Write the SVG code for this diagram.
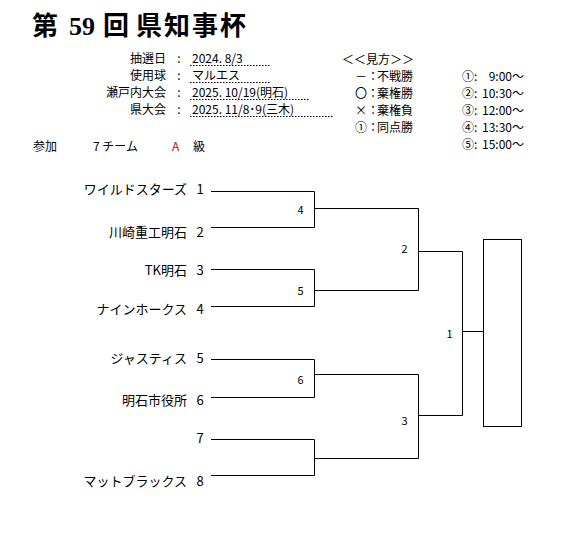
<svg xmlns="http://www.w3.org/2000/svg" width="563" height="536" viewBox="0 0 563 536">
<style>
text{font-family:"Noto Sans CJK JP",sans-serif;fill:#000;dominant-baseline:central}
.title{font-family:"Liberation Serif","Noto Sans CJK JP",serif;font-size:26px;font-weight:bold;dominant-baseline:alphabetic}
.s{font-size:12px}
.t{font-size:13px}
.m{font-size:11px;text-anchor:middle}
.r{text-anchor:end}
.c{text-anchor:middle}
.dot{stroke:#000;stroke-width:1;stroke-dasharray:1.5,1.5;fill:none}
.ln{stroke:#000;stroke-width:1;fill:none}
</style>
<rect width="563" height="536" fill="#fff"/>
<g id="title">
<text class="title" x="32" y="35">第</text>
<text class="title" x="69" y="35">59</text>
<text class="title" x="103" y="35">回</text>
<text class="title" x="136" y="35" letter-spacing="2">県知事杯</text>
</g>
<g id="info">
<text class="s r" x="166" y="57">抽選日</text>
<text class="s r" x="166" y="74">使用球</text>
<text class="s r" x="166" y="91">瀬戸内大会</text>
<text class="s r" x="166" y="108">県大会</text>
<text class="s c" x="179" y="57">:</text>
<text class="s c" x="179" y="74">:</text>
<text class="s c" x="179" y="91">:</text>
<text class="s c" x="179" y="108">:</text>
<text class="s" x="192" y="57">2024. 8/3</text>
<text class="s" x="192" y="74">マルエス</text>
<text class="s" x="192" y="91">2025. 10/19(明石)</text>
<text class="s" x="192" y="108">2025. 11/8･9(三木)</text>
<line class="dot" x1="190" y1="65.5" x2="271" y2="65.5"/>
<line class="dot" x1="190" y1="82.5" x2="271" y2="82.5"/>
<line class="dot" x1="190" y1="99.5" x2="310" y2="99.5"/>
<line class="dot" x1="190" y1="116.5" x2="333" y2="116.5"/>
</g>
<g id="legend">
<text class="s" x="342" y="58">＜＜見方＞＞</text>
<text class="s" x="355" y="75">－：</text><text class="s" x="377" y="75">不戦勝</text>
<text class="s" x="355" y="92">〇：</text><text class="s" x="377" y="92">棄権勝</text>
<text class="s" x="355" y="109">×：</text><text class="s" x="377" y="109">棄権負</text>
<text class="s" x="355" y="126">①：</text><text class="s" x="377" y="126">同点勝</text>
<text class="s" x="462" y="75">①:</text><text class="s r" x="524" y="75">9:00～</text>
<text class="s" x="462" y="92">②:</text><text class="s r" x="524" y="92">10:30～</text>
<text class="s" x="462" y="109">③:</text><text class="s r" x="524" y="109">12:00～</text>
<text class="s" x="462" y="126">④:</text><text class="s r" x="524" y="126">13:30～</text>
<text class="s" x="462" y="143">⑤:</text><text class="s r" x="524" y="143">15:00～</text>
</g>
<g id="entry">
<text class="s" x="33" y="145">参加</text>
<text class="s" x="93" y="145">7 チーム</text>
<text class="s" x="172" y="145" style="fill:#e00000">A</text>
<text class="s" x="193" y="145">級</text>
</g>
<g id="teams">
<g id="team1"><text class="t r" x="187" y="188">ワイルドスターズ</text><text class="t c" x="200" y="188">1</text></g>
<g id="team2"><text class="t r" x="187" y="231">川崎重工明石</text><text class="t c" x="200" y="231">2</text></g>
<g id="team3"><text class="t r" x="187" y="269">TK明石</text><text class="t c" x="200" y="269">3</text></g>
<g id="team4"><text class="t r" x="187" y="308">ナインホークス</text><text class="t c" x="200" y="308">4</text></g>
<g id="team5"><text class="t r" x="187" y="357">ジャスティス</text><text class="t c" x="200" y="357">5</text></g>
<g id="team6"><text class="t r" x="187" y="399">明石市役所</text><text class="t c" x="200" y="399">6</text></g>
<g id="team7"><text class="t c" x="200" y="437">7</text></g>
<g id="team8"><text class="t r" x="187" y="480">マットブラックス</text><text class="t c" x="200" y="480">8</text></g>
</g>
<g id="connectors">
<path class="ln" d="M211 191.5H314.5V227.5H211M314.5 208.5H418.5"/>
<path class="ln" d="M211 269.5H314.5V306.5H211M314.5 290.5H418.5"/>
<path class="ln" d="M211 359.5H314.5V397.5H211M314.5 374.5H418.5"/>
<path class="ln" d="M211 439.5H314.5V475.5H211M314.5 458.5H418.5"/>
<path class="ln" d="M418.5 208.5V290.5M418.5 251.5H462.5"/>
<path class="ln" d="M418.5 374.5V458.5M418.5 415.5H462.5"/>
<path class="ln" d="M462.5 251.5V415.5M462.5 331.5H483.5"/>
</g>
<g id="matches">
<text class="m" x="300.5" y="209">4</text>
<text class="m" x="300.5" y="290">5</text>
<text class="m" x="300.5" y="379">6</text>
<text class="m" x="404.5" y="248">2</text>
<text class="m" x="449.5" y="333">1</text>
<text class="m" x="404.5" y="420">3</text>
</g>
<g id="winner">
<rect class="ln" x="483.5" y="239.5" width="38" height="187"/>
</g>
</svg>
